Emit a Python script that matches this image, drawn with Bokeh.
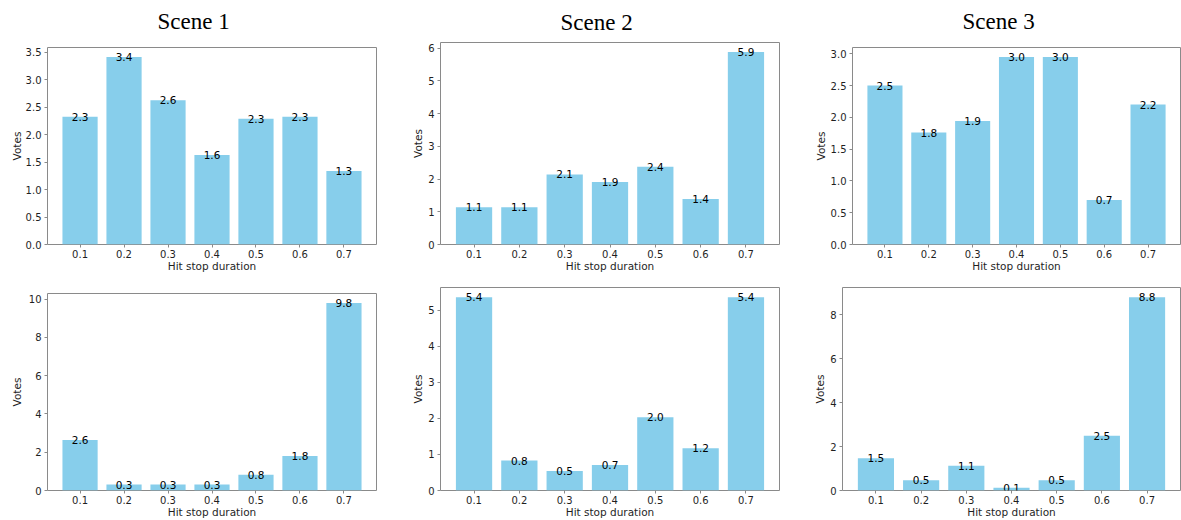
from bokeh.plotting import figure
from bokeh.models import (ColumnDataSource, Range1d, SingleIntervalTicker,
                          FixedTicker, PrintfTickFormatter, BasicTickFormatter,
                          Title)
from bokeh.layouts import row, column
from bokeh.embed import file_html
from bokeh.resources import INLINE
from bokeh.core.properties import value

# ---- data ----
durations = ["0.1", "0.2", "0.3", "0.4", "0.5", "0.6", "0.7"]
scene_titles = ["Scene 1", "Scene 2", "Scene 3"]

scene1_top = [2.33, 3.42, 2.63, 1.63, 2.29, 2.33, 1.34]
scene2_top = [1.14, 1.14, 2.14, 1.91, 2.38, 1.39, 5.88]
scene3_top = [2.50, 1.76, 1.94, 2.95, 2.95, 0.70, 2.20]

scene1_bottom = [2.64, 0.31, 0.31, 0.31, 0.83, 1.80, 9.81]
scene2_bottom = [5.36, 0.83, 0.54, 0.71, 2.03, 1.17, 5.36]
scene3_bottom = [1.47, 0.47, 1.12, 0.12, 0.47, 2.49, 8.79]

y_steps_top = [0.5, 1, 0.5]
y_steps_bottom = [2, 1, 2]

BAR = "#87CEEB"
FRAME = "#8a8a8a"
TXT = "#1f1f1f"
FONT = "DejaVu Sans"


def make_panel(values, step, mbl, fw, mbr, mbt, fh, mbb, title=None,
               gap=0, title_offset=0, ylab_standoff=3):
    n = len(values)
    xs = list(range(n))
    src = ColumnDataSource(dict(
        x=xs, top=values, label=[f"{v:.1f}" for v in values]))
    pad = 0.05 * (n - 1 + 0.8)
    p = figure(x_range=Range1d(-0.4 - pad, n - 1 + 0.4 + pad),
               y_range=Range1d(0, max(values) * 1.05),
               frame_width=fw, frame_height=fh,
               min_border_left=mbl, min_border_right=mbr,
               min_border_top=mbt, min_border_bottom=mbb,
               output_backend="svg", toolbar_location=None,
               background_fill_color="white", border_fill_color="white")
    p.vbar(x="x", top="top", width=0.8, source=src,
           fill_color=BAR, line_color=None)
    p.text(x="x", y="top", text="label", source=src,
           text_align="center", text_baseline="alphabetic",
           text_font=value(FONT), text_font_size="10.5px", text_color="black")

    p.grid.visible = False
    p.outline_line_color = FRAME
    p.outline_line_width = 1

    p.xaxis.ticker = FixedTicker(ticks=xs)
    p.xaxis.major_label_overrides = {i: d for i, d in enumerate(durations)}
    p.yaxis.ticker = SingleIntervalTicker(interval=step)
    if step < 1:
        p.yaxis.formatter = PrintfTickFormatter(format="%.1f")
    else:
        p.yaxis.formatter = BasicTickFormatter()

    p.xaxis.axis_label = "Hit stop duration"
    p.yaxis.axis_label = "Votes"
    for ax in (p.xaxis[0], p.yaxis[0]):
        ax.axis_line_color = None
        ax.major_tick_line_color = FRAME
        ax.major_tick_out = 3
        ax.major_tick_in = 0
        ax.minor_tick_line_color = None
        ax.major_label_text_font = FONT
        ax.major_label_text_font_size = "10px"
        ax.major_label_text_color = TXT
        ax.axis_label_text_font = FONT
        ax.axis_label_text_font_size = "10.5px"
        ax.axis_label_text_font_style = "normal"
        ax.axis_label_text_color = TXT
        ax.major_label_standoff = 2
    p.xaxis.axis_label_standoff = -1
    p.yaxis.axis_label_standoff = ylab_standoff

    if title is not None:
        p.title.text = title
        p.title.align = "left"
        p.title.offset = title_offset
        p.title.text_font = "Liberation Serif"
        p.title.text_font_size = "23px"
        p.title.text_font_style = "normal"
        p.title.text_color = "black"
        p.title.standoff = 4
        # a thin, blank title nearest the frame acts as a gap below the heading
        p.add_layout(Title(text=" ", text_font_size="1px", standoff=gap),
                     "above")
    return p


# top row (figure top at y=0)
p1 = make_panel(scene1_top, y_steps_top[0], 47, 329, 24, 47, 197, 30,
                scene_titles[0], 9, 110, 0)
p2 = make_panel(scene2_top, y_steps_top[1], 40, 339, 21, 42, 202, 30,
                scene_titles[1], 3, 120, 1)
p3 = make_panel(scene3_top, y_steps_top[2], 52, 328, 1, 47, 197, 30,
                scene_titles[2], 9, 110, 1)

# bottom row
p4 = make_panel(scene1_bottom, y_steps_bottom[0], 47, 329, 24, 19, 197, 30,
                ylab_standoff=3)
p5 = make_panel(scene2_bottom, y_steps_bottom[1], 40, 339, 21, 13, 203, 30,
                ylab_standoff=1)
p6 = make_panel(scene3_bottom, y_steps_bottom[2], 42, 338, 1, 13, 203, 30,
                ylab_standoff=1)

layout = column(row(p1, column(p2), p3), row(column(p4), p5, p6))

open("out.html", "w").write(file_html(layout, INLINE))
